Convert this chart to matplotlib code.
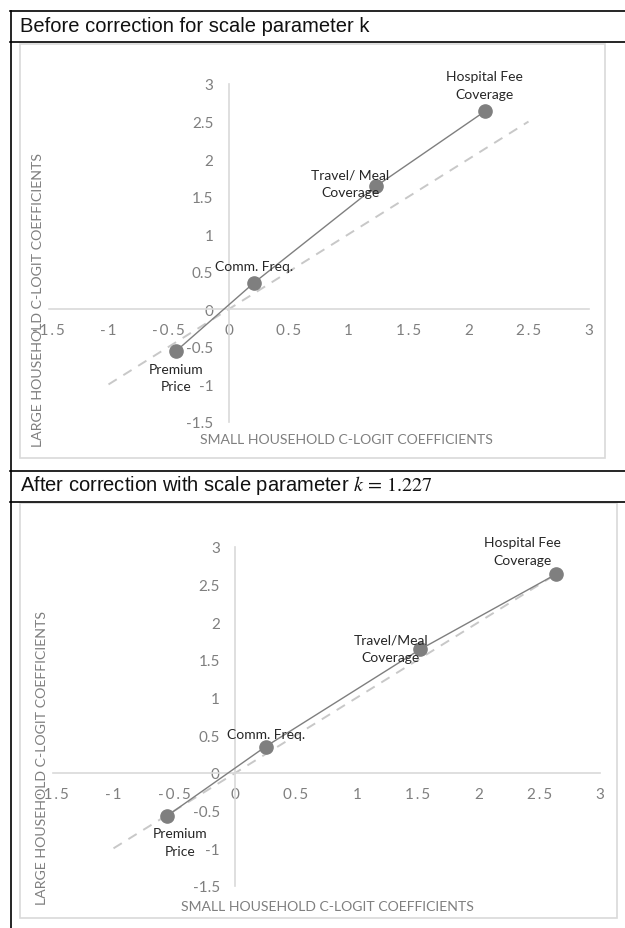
import matplotlib
matplotlib.use("Agg")
import matplotlib.pyplot as plt
from matplotlib.lines import Line2D
from matplotlib.patches import Rectangle

# data
labels = ["Premium\nPrice", "Comm. Freq.", "Travel/ Meal\nCoverage", "Hospital Fee\nCoverage"]
labels_after = ["Premium\nPrice", "Comm. Freq.", "Travel/Meal\nCoverage", "Hospital Fee\nCoverage"]
small_before = [-0.44, 0.21, 1.23, 2.14]
large_before = [-0.56, 0.35, 1.64, 2.64]
small_after = [-0.56, 0.25, 1.52, 2.64]
large_after = [-0.57, 0.35, 1.64, 2.64]
ref_before = [-1.0, 2.5]
ref_after = [-1.0, 2.6]

xticks = [-1.5, -1, -0.5, 0, 0.5, 1, 1.5, 2, 2.5, 3]
xtick_labels = ["-1.5", "-1", "-0.5", "0", "0.5", "1", "1.5", "2", "2.5", "3"]
yticks = [-1.5, -1, -0.5, 0, 0.5, 1, 1.5, 2, 2.5, 3]
ytick_labels = ["-1.5", "-1", "-0.5", "0", "0.5", "1", "1.5", "2", "2.5", "3"]

W, H = 625, 929
plt.rcParams['font.family'] = ['Lato', 'DejaVu Sans']
plt.rcParams['mathtext.fontset'] = 'stix'

fig = plt.figure(figsize=(W / 100, H / 100), dpi=100)

GRAY = "#7f7f7f"
LIGHT = "#d9d9d9"


def fx(x):
    return x / W


def fy(y):
    return 1 - y / H


def hline(y, x0, x1, color="black", lw=1.2):
    fig.add_artist(Line2D([fx(x0), fx(x1)], [fy(y), fy(y)], color=color, lw=lw))


# table frame
hline(12, 10, 625)
hline(43, 10, 625)
hline(472, 10, 625)
hline(503, 10, 625)
fig.add_artist(Line2D([fx(10.5), fx(10.5)], [fy(12), fy(929)], color="black", lw=1.2))

fig.text(fx(20), fy(26), "Before correction for scale parameter k", family="Liberation Sans",
         fontsize=14.5, va="center", ha="left", color="#111111")
fig.text(fx(20), fy(486), "After correction with scale parameter $k\\, =\\, 1.227$", family="Liberation Sans",
         fontsize=14.5, va="center", ha="left", color="#111111")


def panel(box, axbox, sx, sy, ref, names, offsets, xlab_pos, ylab_pos):
    bx0, by0, bx1, by1 = box
    fig.add_artist(Rectangle((fx(bx0), fy(by1)), fx(bx1 - bx0), (by1 - by0) / H,
                             transform=fig.transFigure, fill=False, edgecolor=LIGHT, lw=1.2))
    l, t, r, b = axbox
    ax = fig.add_axes([fx(l), fy(b), fx(r - l), (b - t) / H])
    ax.set_xlim(-1.5, 3)
    ax.set_ylim(-1.5, 3)
    ax.patch.set_alpha(0)
    for s in ["top", "right"]:
        ax.spines[s].set_visible(False)
    ax.spines["left"].set_position(("data", 0))
    ax.spines["bottom"].set_position(("data", 0))
    for s in ["left", "bottom"]:
        ax.spines[s].set_color(LIGHT)
        ax.spines[s].set_linewidth(1.2)
    ax.set_xticks(xticks)
    ax.set_xticklabels(["\u2009".join(t) for t in xtick_labels])
    ax.set_yticks(yticks)
    ax.set_yticklabels(ytick_labels)
    ax.tick_params(axis="x", length=0, pad=10, labelsize=11, labelcolor=GRAY)
    ax.tick_params(axis="y", length=0, pad=11, labelsize=11, labelcolor=GRAY)

    ax.plot(ref, ref, color="#c8c8c8", lw=1.4, dashes=(5, 4), zorder=2)
    ax.plot(sx, sy, color=GRAY, lw=1.0, marker="o", markersize=9.5,
            markerfacecolor=GRAY, markeredgecolor=GRAY, zorder=3)
    for name, x, y, (dx, dy) in zip(names, sx, sy, offsets):
        ax.annotate(name, (x, y), xytext=(dx * 0.72, -dy * 0.72), textcoords="offset points",
                    ha="center", va="center", fontsize=10, color="#262626", linespacing=1.55,
                    zorder=4)

    fig.text(fx(xlab_pos[0]), fy(xlab_pos[1]), "SMALL HOUSEHOLD C-LOGIT COEFFICIENTS",
             ha="center", va="center", fontsize=10.1, color=GRAY)
    fig.text(fx(ylab_pos[0]), fy(ylab_pos[1]), "LARGE HOUSEHOLD C-LOGIT COEFFICIENTS",
             ha="center", va="center", rotation=90, fontsize=10.2, color=GRAY)
    return ax


# label offsets in pixels (dx, dy) relative to each point
off_before = [(0, 26), (0, -17), (-26, -3), (-1, -26)]
off_after = [(13, 26), (1, -13), (-29, -1), (-34, -23)]

panel((20, 45, 605, 459), (48.5, 85, 588.5, 423), small_before, large_before, ref_before,
      labels, off_before, (346, 440), (38, 300))
panel((20, 504, 617, 919), (52.7, 548, 600, 887), small_after, large_after, ref_after,
      labels_after, off_after, (327, 907), (42, 758))

fig.savefig("out.png", dpi=100)
